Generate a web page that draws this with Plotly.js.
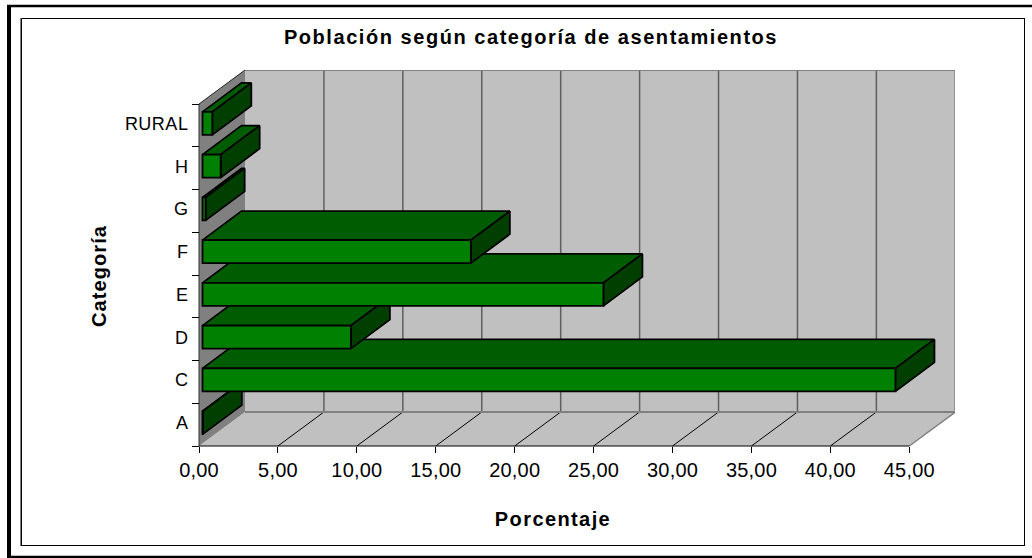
<!DOCTYPE html>
<html>
<head>
<meta charset="utf-8">
<script src="https://cdn.plot.ly/plotly-3.0.1.min.js"></script>
<style>
html,body{margin:0;padding:0;background:#fff;overflow:hidden}
#chart{width:1032px;height:558px}
#chart .gtitle{letter-spacing:1.55px}
#chart .xtitle{letter-spacing:1.4px}
#chart .ytitle{letter-spacing:1.1px}
#chart .ytick text{letter-spacing:0.5px}
#chart .xtick text{letter-spacing:0.2px}
</style>
</head>
<body>
<div id="chart"></div>
<script>
var categories = ['A','C','D','E','F','G','H','RURAL'];
var values = [0.02,43.9,9.4,25.4,17.0,0.2,1.15,0.62];
var xTicks = [0,5,10,15,20,25,30,35,40,45];

var FONT = '"Liberation Sans", Arial, sans-serif';
var COL = {front:'#008000', top:'#005c00', side:'#003f00', wall:'#c0c0c0', left:'#808080', edge:'#808080', grid:'#5f5f5f'};

// plot frame in pixels
var L=151, R=955, T=70, B=482, W=1032, H=558;
var AX0=199, AY0=446;            // where the 0,0 front corner sits
var PX=710.3/45, PY=342/categories.length; // pixels per axis unit
var DX=46/PX, DY=34/PY;          // depth of the walls
var BDX=39/PX, BDY=29/PY;        // depth of the bars
var GX=3.5/PX, GY=2/PY;          // front gap of the bars
var BH=23/PY;                    // bar thickness
var XMAX=xTicks[xTicks.length-1], YMAX=categories.length;

function xp(px){return (px-L)/(R-L);}
function yp(py){return (B-py)/(B-T);}

function poly(pts){return 'M'+pts.map(function(p){return p[0]+','+p[1];}).join('L')+'Z';}
function dataLine(x0,y0,x1,y1,color,w){
  return {type:'line',xref:'x',yref:'y',x0:x0,y0:y0,x1:x1,y1:y1,layer:'below',line:{color:color,width:w}};
}
function pageLine(x0,y0,x1,y1,color,w){
  return {type:'line',xref:'paper',yref:'paper',x0:xp(x0),y0:yp(y0),x1:xp(x1),y1:yp(y1),layer:'below',line:{color:color,width:w}};
}

var shapes=[];
// walls
shapes.push({type:'path',xref:'x',yref:'y',layer:'below',path:poly([[DX,DY],[DX,YMAX+DY],[XMAX+DX,YMAX+DY],[XMAX+DX,DY]]),fillcolor:COL.wall,line:{width:0}});
shapes.push({type:'path',xref:'x',yref:'y',layer:'below',path:poly([[0,0],[DX,DY],[XMAX+DX,DY],[XMAX,0]]),fillcolor:COL.wall,line:{width:0}});
shapes.push({type:'path',xref:'x',yref:'y',layer:'below',path:poly([[0,0],[0,YMAX],[DX,YMAX+DY],[DX,DY]]),fillcolor:COL.left,line:{width:0}});
// grid
xTicks.forEach(function(t){
  if(t>0 && t<XMAX) shapes.push(dataLine(t+DX,DY,t+DX,YMAX+DY,COL.grid,1.5));
  if(t>0 && t<XMAX) shapes.push(dataLine(t,0,t+DX,DY,'#000000',1));
});
// wall edges
shapes.push(dataLine(DX,YMAX+DY,XMAX+DX,YMAX+DY,COL.edge,2));
shapes.push(dataLine(XMAX+DX,DY,XMAX+DX,YMAX+DY,COL.edge,2));
shapes.push(dataLine(DX,DY,XMAX+DX,DY,COL.edge,2));
shapes.push(dataLine(XMAX,0,XMAX+DX,DY,COL.edge,1.5));
shapes.push(dataLine(0,YMAX,DX,YMAX+DY,'#222222',1));
shapes.push(dataLine(0,0,0,YMAX,'#333333',1));
shapes.push(dataLine(0,0,XMAX,0,'#000000',1.2));
// picture frames
shapes.push(pageLine(7,6,1032,6,'#000',2.5));
shapes.push(pageLine(9,5,9,558,'#000',4));
shapes.push(pageLine(7,557,1032,557,'#000',2.5));
shapes.push(pageLine(20.5,18,20.5,546,'#808080',1));
shapes.push(pageLine(21.5,18.5,1025,18.5,'#000',1));
shapes.push(pageLine(21.5,18.5,21.5,546,'#000',1));
shapes.push(pageLine(1024.5,18,1024.5,546,'#000',1));
shapes.push(pageLine(21,545.5,1025,545.5,'#000',1));

var traces=[];
categories.forEach(function(c,i){
  var v=values[i];
  var yb=i+0.5+GY-BH/2, yt=yb+BH, x0=GX, x1=GX+v;
  traces.push({type:'scatter',mode:'lines',fill:'toself',fillcolor:COL.top,zorder:2*i,hoverinfo:'skip',showlegend:false,
    x:[x0,x1,x1+BDX,x0+BDX,x0],y:[yt,yt,yt+BDY,yt+BDY,yt],line:{color:'#000',width:1.8}});
  traces.push({type:'scatter',mode:'lines',fill:'toself',fillcolor:COL.side,zorder:2*i,hoverinfo:'skip',showlegend:false,
    x:[x1,x1+BDX,x1+BDX,x1,x1],y:[yt,yt+BDY,yb+BDY,yb,yt],line:{color:'#000',width:1.8}});
  traces.push({type:'bar',orientation:'h',zorder:2*i+1,showlegend:false,name:c,
    x:[v],y:[i+0.5+GY],base:[GX],width:[BH],marker:{color:COL.front,line:{color:'#000',width:1.8}}});
});

var layout={
  width:W,height:H,paper_bgcolor:'#fff',plot_bgcolor:'rgba(0,0,0,0)',
  margin:{l:L,r:W-R,t:T,b:H-B,autoexpand:false},
  separators:',.',showlegend:false,
  font:{family:FONT,color:'#000'},
  title:{text:'<b>Población según categoría de asentamientos</b>',font:{family:FONT,size:20,color:'#000'},
    xref:'paper',x:xp(531),xanchor:'center',yref:'container',y:1-37/H,yanchor:'middle'},
  xaxis:{range:[(L-AX0)/PX,(R-AX0)/PX],anchor:'free',position:yp(AY0),showgrid:false,zeroline:false,showline:false,
    tickmode:'array',tickvals:xTicks,tickformat:'.2f',ticks:'outside',ticklen:6,tickwidth:1,tickcolor:'#000',
    tickfont:{family:FONT,size:20,color:'#000'},
    title:{text:'<b>Porcentaje</b>',font:{family:FONT,size:20,color:'#000'},standoff:31}},
  yaxis:{range:[(AY0-B)/PY,(AY0-T)/PY],anchor:'free',position:xp(AX0),showgrid:false,zeroline:false,showline:false,
    tickmode:'array',tickvals:categories.map(function(c,i){return i+0.5+0.04;}),ticktext:categories,
    ticks:'outside',ticklen:7,tickcolor:'rgba(0,0,0,0)',tickfont:{family:FONT,size:18,color:'#000'},
    minor:{tickmode:'array',tickvals:categories.map(function(c,i){return i;}).concat([categories.length]),ticks:'outside',ticklen:7,tickwidth:1,tickcolor:'#000'},
    title:{text:'<b>Categoría</b>',font:{family:FONT,size:20,color:'#000'},standoff:14}},
  shapes:shapes,bargap:0,barmode:'overlay'
};
Plotly.newPlot('chart',traces,layout,{displayModeBar:false,staticPlot:true});
</script>
</body>
</html>
